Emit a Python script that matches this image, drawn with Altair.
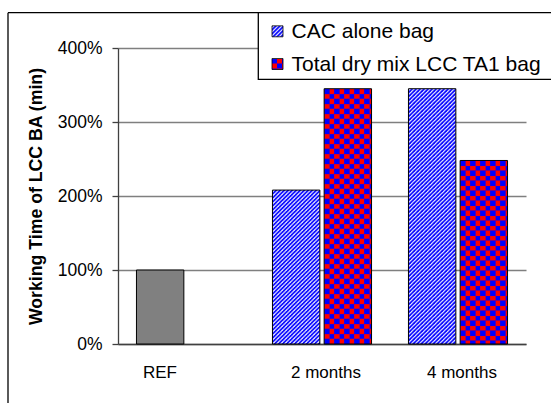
import base64

import altair as alt
import pandas as pd

# ---- chart values -------------------------------------------------------
categories = ["REF", "2 months", "4 months"]
bar_category = ["REF", "2 months", "2 months", "4 months", "4 months"]
bar_series = ["REF", "CAC alone bag", "Total dry mix LCC TA1 bag",
              "CAC alone bag", "Total dry mix LCC TA1 bag"]
bar_slot = [0, 0, 1, 0, 1]
working_time = [1.00, 2.08, 3.45, 3.45, 2.48]
legend_labels = ["CAC alone bag", "Total dry mix LCC TA1 bag"]
y_ticks = [0, 1, 2, 3, 4]

FONT = "Liberation Sans"


def pattern_uri(tile, size):
    """Small SVG image that tiles `tile` at 1:1 pixel scale over any box."""
    svg = (
        '<svg xmlns="http://www.w3.org/2000/svg" width="100%" height="100%" '
        'shape-rendering="crispEdges">'
        f'<defs><pattern id="p" width="{size}" height="{size}" '
        f'patternUnits="userSpaceOnUse">{tile}</pattern></defs>'
        '<rect width="100%" height="100%" fill="url(#p)"/></svg>'
    )
    return "data:image/svg+xml;base64," + base64.b64encode(svg.encode()).decode()


hatch = pattern_uri(
    '<rect width="4" height="4" fill="#ffffff"/>'
    '<path d="M-1,1 l2,-2 M0,4 l4,-4 M3,5 l2,-2" stroke="#0000ff" '
    'stroke-width="1.7" shape-rendering="auto"/>',
    4,
)
checker = pattern_uri(
    '<rect width="10" height="10" fill="#ff0000"/>'
    '<rect width="5" height="5" fill="#0000ff"/>'
    '<rect x="5" y="5" width="5" height="5" fill="#0000ff"/>',
    10,
)
fills = {"CAC alone bag": hatch, "Total dry mix LCC TA1 bag": checker, "REF": ""}

bars = pd.DataFrame({
    "category": bar_category,
    "series": bar_series,
    "slot": bar_slot,
    "value": working_time,
})
bars["url"] = bars["series"].map(fills)

x_enc = alt.X(
    "category:N",
    sort=categories,
    scale=alt.Scale(domain=categories, paddingInner=0, paddingOuter=0),
    axis=alt.Axis(
        title=None, labelAngle=0, ticks=False, tickSize=0, labelPadding=20,
        labelFont=FONT, labelFontSize=17, labelColor="black",
        domainColor="#404040", domainWidth=1.3,
        labelOffset={"condition": {"test": "datum.value === 'REF'", "value": -26},
                     "value": 4},
    ),
)
xo_enc = alt.XOffset(
    "slot:O", scale=alt.Scale(domain=[0, 1], paddingInner=0.083, paddingOuter=0.357)
)
y_enc = alt.Y(
    "value:Q",
    scale=alt.Scale(domain=[0, 4], nice=False),
    axis=alt.Axis(
        values=y_ticks, format=".0%",
        labelFont=FONT, labelFontSize=17.5, labelColor="black", labelPadding=10,
        tickSize=6, tickColor="#404040", tickWidth=1.3,
        domainColor="#404040", domainWidth=1.3,
        grid=True, gridColor="#7f7f7f", gridWidth=1.3,
        title="Working Time of LCC BA (min)", titleFont=FONT, titleFontSize=17.7,
        titleFontWeight="bold", titleColor="black", titleAngle=-90,
        titleX=-82, titleY=148, titleAlign="center", titleBaseline="middle",
    ),
)

base = alt.Chart(bars)

# patterned fills
pattern_layer = base.transform_filter(alt.datum.series != "REF").mark_image(
    aspect=False
).encode(x=x_enc, xOffset=xo_enc, y=y_enc, y2=alt.datum(0), url="url:N")

# outlines (and the solid grey reference bar)
bar_layer = base.mark_bar(stroke="black", strokeWidth=1).encode(
    x=x_enc, xOffset=xo_enc, y=y_enc, y2=alt.datum(0),
    fill=alt.condition(alt.datum.series == "REF", alt.value("#808080"),
                       alt.value("transparent")),
)

one = pd.DataFrame({"k": [0]})

# outer frame of the figure
frame_left = alt.Chart(one).mark_rule(color="black", strokeWidth=1.3).encode(
    x=alt.value(-110), y=alt.value(-35.3), y2=alt.value(400))
frame_top = alt.Chart(one).mark_rule(color="black", strokeWidth=1.3).encode(
    x=alt.value(-110), x2=alt.value(460), y=alt.value(-35.3))

# legend box
legend_box = alt.Chart(one).mark_rect(
    fill="white", stroke="black", strokeWidth=1.3
).encode(x=alt.value(140.3), x2=alt.value(460), y=alt.value(-35.3), y2=alt.value(31.3))

legend_layers = []
for i, label in enumerate(legend_labels):
    row = pd.DataFrame({"label": [label], "url": [fills[label]]})
    baseline = -9.7 + i * 32.7
    top = baseline - 12.5
    legend_layers.append(
        alt.Chart(row).mark_image(aspect=False, width=11, height=11,
                                  align="left", baseline="top").encode(
            x=alt.value(154), y=alt.value(top), url="url:N")
    )
    legend_layers.append(
        alt.Chart(row).mark_rect(fill="transparent", stroke="black",
                                 strokeWidth=0.8).encode(
            x=alt.value(154), x2=alt.value(165), y=alt.value(top),
            y2=alt.value(top + 11))
    )
    legend_layers.append(
        alt.Chart(row).mark_text(align="left", baseline="alphabetic", font=FONT,
                                 fontSize=21, color="black").encode(
            x=alt.value(173.6), y=alt.value(baseline), text="label:N")
    )

chart = alt.layer(
    pattern_layer, bar_layer, frame_left, frame_top, legend_box, *legend_layers
).properties(
    width=408, height=296,
    autosize=alt.AutoSizeParams(type="none"),
    padding={"left": 118, "top": 48, "right": 25, "bottom": 59},
    background="white",
).configure_view(strokeWidth=0)

chart.save("out.html", embed_options={"renderer": "svg", "actions": False})
